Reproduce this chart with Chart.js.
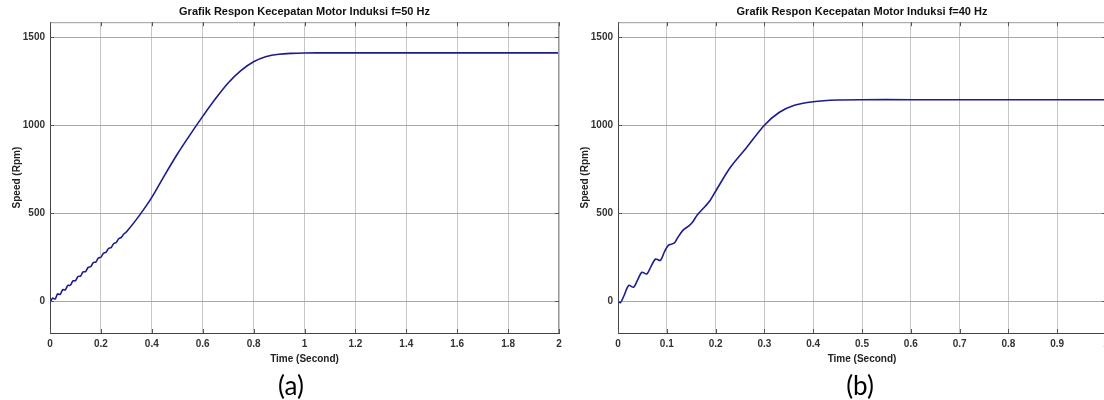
<!DOCTYPE html>
<html>
<head>
<meta charset="utf-8">
<script src="https://cdn.jsdelivr.net/npm/chart.js@4.4.1/dist/chart.umd.min.js"></script>
<style>
  html, body { margin:0; padding:0; background:#fff; overflow:hidden; width:1104px; height:400px; }
  #wrap { position:relative; width:1104px; height:400px; overflow:hidden; }
  .box { position:absolute; top:0; height:400px; }
  .cap { position:absolute; top:370px; font-family:Lato, "Open Sans", sans-serif; font-size:26px; color:#000; line-height:30px; text-align:center; width:80px; }
</style>
</head>
<body>
<div id="wrap">
  <div class="box" style="left:0;width:572px"><canvas id="c1" width="572" height="400"></canvas></div>
  <div class="box" style="left:560px;width:548px"><canvas id="c2" width="548" height="400"></canvas></div>
  <div class="cap" id="capA" style="left:251px">(a)</div>
  <div class="cap" id="capB" style="left:820px">(b)</div>
</div>
<script>
// ---------- data ----------
const titleA = "Grafik Respon Kecepatan Motor Induksi f=50 Hz";
const titleB = "Grafik Respon Kecepatan Motor Induksi f=40 Hz";
const xLabel = "Time (Second)";
const yLabel = "Speed (Rpm)";

const timeA  = [0, 0.01, 0.02, 0.03, 0.04, 0.05, 0.06, 0.07, 0.08, 0.09, 0.10, 0.11, 0.12, 0.13, 0.14, 0.15, 0.16, 0.17, 0.18, 0.19, 0.20, 0.21, 0.22, 0.23, 0.24, 0.25, 0.26, 0.27, 0.28, 0.29, 0.30, 0.35, 0.40, 0.45, 0.50, 0.55, 0.60, 0.65, 0.70, 0.75, 0.80, 0.85, 0.90, 0.95, 1.00, 1.10, 1.20, 1.40, 1.60, 1.80, 2.00];
const speedA = [-8, 18, 13, 42, 39, 66, 65, 90, 91, 116, 117, 141, 143, 167, 169, 193, 196, 220, 223, 246, 250, 273, 278, 300, 305, 327, 334, 355, 363, 382, 393, 485, 590, 715, 835, 945, 1050, 1150, 1240, 1310, 1360, 1390, 1403, 1408, 1410, 1411, 1411, 1411, 1411, 1411, 1411];

const timeB  = [0, 0.005, 0.012, 0.022, 0.032, 0.040, 0.049, 0.059, 0.068, 0.077, 0.087, 0.095, 0.103, 0.115, 0.122, 0.133, 0.146, 0.153, 0.162, 0.175, 0.189, 0.200, 0.230, 0.264, 0.300, 0.330, 0.360, 0.400, 0.450, 0.500, 0.600, 0.700, 0.800, 0.900, 1.000];
const speedB = [0, -8, 30, 90, 80, 120, 165, 155, 200, 240, 232, 280, 318, 330, 360, 403, 430, 450, 489, 528, 574, 625, 760, 875, 1000, 1072, 1112, 1133, 1143, 1145, 1145, 1145, 1145, 1145, 1145];

const xTicksA = [0, 0.2, 0.4, 0.6, 0.8, 1, 1.2, 1.4, 1.6, 1.8, 2];
const xTickLabelsA = ["0", "0.2", "0.4", "0.6", "0.8", "1", "1.2", "1.4", "1.6", "1.8", "2"];
const xTicksB = [0, 0.1, 0.2, 0.3, 0.4, 0.5, 0.6, 0.7, 0.8, 0.9, 1];
const xTickLabelsB = ["0", "0.1", "0.2", "0.3", "0.4", "0.5", "0.6", "0.7", "0.8", "0.9", "1"];
const yTicks = [0, 500, 1000, 1500];
const yTickLabels = ["0", "500", "1000", "1500"];
const yMin = -180, yMax = 1585;

// ---------- styling ----------
const FONT = "'Liberation Sans', Arial, sans-serif";
const LINE = "#1c1c8f";

const boxPlugin = {
  id: 'matlabBox',
  afterDraw(chart) {
    const {ctx, chartArea: a, scales} = chart;
    ctx.save();
    ctx.lineWidth = 1;
    ctx.strokeStyle = '#9a9a9a';
    ctx.beginPath();
    ctx.moveTo(a.left, a.top + 0.5); ctx.lineTo(a.right, a.top + 0.5);
    ctx.moveTo(a.right - 0.5, a.top); ctx.lineTo(a.right - 0.5, a.bottom);
    ctx.stroke();
    ctx.strokeStyle = '#555';
    ctx.beginPath();
    const tl = 4;
    scales.x.ticks.forEach(t => {
      const px = Math.round(scales.x.getPixelForValue(t.value)) + 0.5;
      ctx.moveTo(px, a.bottom); ctx.lineTo(px, a.bottom - tl);
      ctx.moveTo(px, a.top); ctx.lineTo(px, a.top + tl);
    });
    scales.y.ticks.forEach(t => {
      const py = Math.round(scales.y.getPixelForValue(t.value)) + 0.5;
      ctx.moveTo(a.left, py); ctx.lineTo(a.left + tl, py);
      ctx.moveTo(a.right, py); ctx.lineTo(a.right - tl, py);
    });
    ctx.stroke();
    ctx.restore();
  }
};

function makeChart(id, title, times, speeds, xTicks, xTickLabels, xMax, yAxisWidth, yTitlePad, padRight) {
  const pts = times.map((t, i) => ({x: t, y: speeds[i]}));
  return new Chart(document.getElementById(id), {
    type: 'line',
    data: { datasets: [{ data: pts, borderColor: LINE, borderWidth: 1.6, pointRadius: 0, tension: 0.3, fill: false }] },
    options: {
      responsive: false,
      animation: false,
      layout: { padding: { top: 0, right: padRight, bottom: 0, left: 0 } },
      plugins: {
        legend: { display: false },
        tooltip: { enabled: false },
        title: { display: true, fullSize: false, text: title, color: '#111', font: { family: FONT, size: 11, weight: 'bold' }, padding: { top: 5, bottom: 4 } }
      },
      scales: {
        x: {
          type: 'linear', min: 0, max: xMax,
          afterBuildTicks: (ax) => { ax.ticks = xTicks.map(v => ({ value: v })); },
          afterFit: (s) => { s.height = 67; s.paddingLeft = 0; s.paddingRight = 0; },
          ticks: { autoSkip: false, maxRotation: 0, padding: 5, color: '#333', font: { family: FONT, size: 10, weight: 'bold' },
                   callback: (v) => { const i = xTicks.findIndex(t => Math.abs(t - v) < 1e-9); return i >= 0 ? xTickLabels[i] : ''; } },
          grid: { color: '#c6c6c6', lineWidth: 1, drawTicks: false },
          border: { display: true, color: '#444', width: 1 },
          title: { display: true, text: xLabel, color: '#222', font: { family: FONT, size: 10, weight: 'bold' }, padding: { top: 0, bottom: 35 } }
        },
        y: {
          type: 'linear', min: yMin, max: yMax,
          afterBuildTicks: (ax) => { ax.ticks = yTicks.map(v => ({ value: v })); },
          afterFit: (s) => { s.width = yAxisWidth; s.paddingTop = 0; s.paddingBottom = 0; },
          ticks: { autoSkip: false, padding: 5, color: '#333', font: { family: FONT, size: 10, weight: 'bold' },
                   callback: (v) => { const i = yTicks.indexOf(v); return i >= 0 ? yTickLabels[i] : ''; } },
          grid: { color: '#a8a8a8', lineWidth: 1, drawTicks: false },
          border: { display: true, color: '#444', width: 1 },
          title: { display: true, text: yLabel, color: '#222', font: { family: FONT, size: 10, weight: 'bold' }, padding: { top: yTitlePad, bottom: 0 } }
        }
      }
    },
    plugins: [boxPlugin]
  });
}

makeChart('c1', titleA, timeA, speedA, xTicksA, xTickLabelsA, 2, 50, 11, 13);
makeChart('c2', titleB, timeB, speedB, xTicksB, xTickLabelsB, 1, 58, 19, 2);
</script>
</body>
</html>
